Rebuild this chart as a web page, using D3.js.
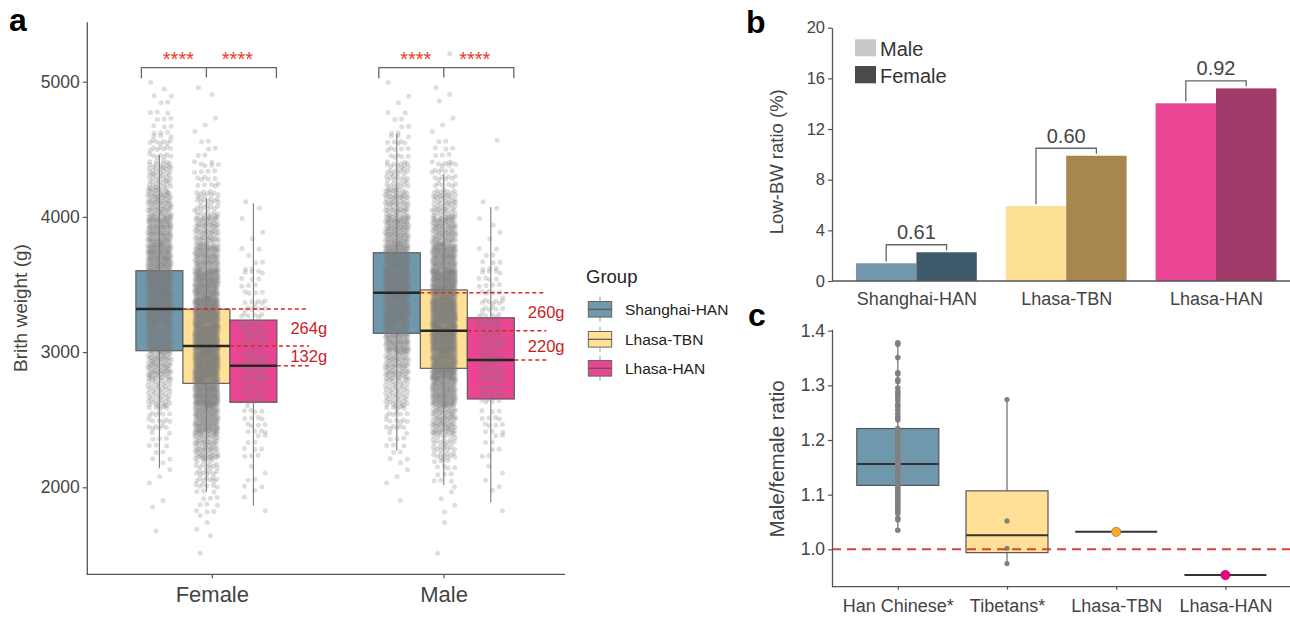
<!DOCTYPE html>
<html>
<head>
<meta charset="utf-8">
<script src="https://cdn.jsdelivr.net/npm/d3@7"></script>
<style>
  body { margin: 0; background: #fff; }
  svg { font-family: "Liberation Sans", Arial, sans-serif; }
</style>
</head>
<body>
<svg width="1290" height="617"></svg>
<script>
// ---------- panel a data ----------
var sexes = ["Female", "Male"];
var groups = ["Shanghai-HAN", "Lhasa-TBN", "Lhasa-HAN"];
var groupColors = ["#7098ac", "#ffe096", "#e94593"];
// [whiskerLow, q1, median, q3, whiskerHigh]
var femaleBoxes = [[2141, 3010, 3319, 3602, 4458], [1967, 2769, 3045, 3317, 4138], [1864, 2629, 2899, 3237, 4101]];
var maleBoxes = [[2271, 3139, 3439, 3735, 4611], [2017, 2880, 3158, 3460, 4317], [1889, 2653, 2942, 3254, 4073]];
// number of babies per 200 g bin, bins start at 1400 g
var binStart = 1400, binSize = 200;
var femaleCounts = [
  [0, 1, 2, 4, 10, 25, 50, 90, 130, 170, 180, 165, 130, 90, 55, 28, 12, 6, 0, 0],
  [1, 4, 12, 35, 80, 150, 220, 270, 280, 250, 190, 130, 80, 40, 18, 8, 3, 2, 0, 0],
  [0, 0, 3, 6, 10, 16, 24, 30, 30, 24, 14, 7, 3, 2, 0, 0, 0, 0, 0, 0]
];
var maleCounts = [
  [0, 0, 1, 4, 10, 25, 50, 85, 130, 165, 175, 155, 115, 75, 42, 20, 8, 3, 0, 0],
  [1, 1, 4, 14, 40, 90, 160, 230, 270, 270, 230, 170, 110, 60, 25, 10, 3, 3, 0, 1],
  [0, 0, 2, 4, 8, 14, 22, 28, 30, 26, 18, 10, 4, 2, 0, 1, 0, 0, 0, 0]
];
var diffLabels = [["264g", "132g"], ["260g", "220g"]];
var sigLabels = ["****", "****"];
var weightTicks = [2000, 3000, 4000, 5000];

// ---------- panel b data ----------
var bwGroups = ["Shanghai-HAN", "Lhasa-TBN", "Lhasa-HAN"];
var maleLowBW = [1.40, 5.92, 14.03];
var femaleLowBW = [2.27, 9.89, 15.21];
var maleBarColors = ["#7397ad", "#fde095", "#e94592"];
var femaleBarColors = ["#3f5a6b", "#a7864f", "#a13b6a"];
var ratioLabels = ["0.61", "0.60", "0.92"];
var lowBWTicks = [0, 4, 8, 12, 16, 20];

// ---------- panel c data ----------
var ratioCats = ["Han Chinese*", "Tibetans*", "Lhasa-TBN", "Lhasa-HAN"];
var hanRatios = [1.378, 1.375, 1.351, 1.323, 1.321, 1.310, 1.307, 1.295, 1.288, 1.284, 1.279, 1.273,
  1.266, 1.261, 1.255, 1.248, 1.242, 1.237, 1.221, 1.217, 1.212, 1.205, 1.200, 1.198, 1.193, 1.190,
  1.186, 1.182, 1.178, 1.175, 1.171, 1.168, 1.165, 1.161, 1.158, 1.155, 1.152, 1.148, 1.145, 1.142,
  1.138, 1.135, 1.131, 1.128, 1.125, 1.121, 1.118, 1.114, 1.110, 1.106, 1.102, 1.098, 1.094, 1.090,
  1.086, 1.082, 1.078, 1.074, 1.070, 1.066, 1.057, 1.054, 1.035];
var tibetanRatios = [0.974, 1.002, 1.052, 1.274];
var hanBox = [1.035, 1.117, 1.156, 1.221, 1.378];
var tibetanBox = [0.974, 0.994, 1.026, 1.107, 1.274];
var lhasaRatios = [1.032, 0.953];
var lhasaColors = ["#f9a832", "#e4087d"];
var ratioTicks = [1.0, 1.1, 1.2, 1.3, 1.4];

var svg = d3.select("svg");
var axisColor = "#555", textColor = "#444";

function styleAxis(g, size) {
  g.select(".domain").attr("stroke", axisColor).attr("stroke-width", 1.3);
  g.selectAll(".tick line").attr("stroke", axisColor).attr("stroke-width", 1.2);
  g.selectAll(".tick text").attr("fill", textColor).style("font-size", size + "px");
}

// ================= panel a =================
var yA = d3.scaleLinear().domain([1356.5, 5443.8]).range([574.3, 21.7]);
var xA = d3.scalePoint().domain(sexes).range([211.8, 443.6]);
var dodge = d3.scaleBand().domain(groups).range([-70.5, 70.5]);
var sexShift = { Female: -5.4, Male: 0.2 };
var bw = dodge.bandwidth();
function boxX(sex, grp) { return xA(sex) + sexShift[sex] + dodge(grp) + bw / 2; }

var gA = svg.append("g");
gA.append("g").attr("transform", "translate(86.8,0)")
  .call(d3.axisLeft(yA).tickValues(weightTicks).tickFormat(d3.format("d")).tickSize(4).tickPadding(3).tickSizeOuter(0))
  .call(styleAxis, 17.5);
gA.append("line").attr("x1", 86.8).attr("x2", 565).attr("y1", 574.3).attr("y2", 574.3)
  .attr("stroke", axisColor).attr("stroke-width", 1.3);
var xAxA = gA.append("g").attr("transform", "translate(0,574.3)")
  .call(d3.axisBottom(xA).tickSize(4).tickSizeOuter(0));
xAxA.select(".domain").remove();
xAxA.call(styleAxis, 22);
xAxA.selectAll(".tick text").attr("y", 28).attr("dy", 0);

gA.append("text").attr("transform", "translate(20,308) rotate(-90)")
  .attr("text-anchor", "middle").attr("dominant-baseline", "central")
  .attr("fill", textColor).style("font-size", "19px").text("Brith weight (g)");

var boxSets = [femaleBoxes, maleBoxes];
var countSets = [femaleCounts, maleCounts];

// boxes
sexes.forEach(function (sex, s) {
  groups.forEach(function (grp, g) {
    var b = boxSets[s][g], cx = boxX(sex, grp);
    gA.append("rect").attr("x", cx - bw / 2).attr("width", bw)
      .attr("y", yA(b[3])).attr("height", yA(b[1]) - yA(b[3]))
      .attr("fill", groupColors[g]).attr("stroke", "#555").attr("stroke-width", 1.1);
  });
});

// jittered babies
var pts = [];
sexes.forEach(function (sex, s) {
  groups.forEach(function (grp, g) {
    var cx = boxX(sex, grp);
    countSets[s][g].forEach(function (n, b) {
      for (var k = 0; k < n; k++) {
        var u = (0.5 + (k + 1) * 0.7548776662 + b * 0.13 + g * 0.31) % 1;
        var v = (0.5 + (k + 1) * 0.5698402910 + b * 0.29 + g * 0.17) % 1;
        pts.push({ x: cx + (v - 0.5) * 24, w: binStart + b * binSize + u * binSize });
      }
    });
  });
});
gA.append("g").selectAll("circle").data(pts).enter().append("circle")
  .attr("cx", function (d) { return d.x; })
  .attr("cy", function (d) { return yA(d.w); })
  .attr("r", 2.5).attr("fill", "#7a7a7a").attr("fill-opacity", 0.25);

// whiskers + medians + differences
sexes.forEach(function (sex, s) {
  groups.forEach(function (grp, g) {
    var b = boxSets[s][g], cx = boxX(sex, grp);
    gA.append("line").attr("x1", cx).attr("x2", cx).attr("y1", yA(b[0])).attr("y2", yA(b[1]))
      .attr("stroke", "#7a7a7a").attr("stroke-width", 1.1);
    gA.append("line").attr("x1", cx).attr("x2", cx).attr("y1", yA(b[3])).attr("y2", yA(b[4]))
      .attr("stroke", "#7a7a7a").attr("stroke-width", 1.1);
    gA.append("line").attr("x1", cx - bw / 2).attr("x2", cx + bw / 2)
      .attr("y1", yA(b[2])).attr("y2", yA(b[2]))
      .attr("stroke", "#262626").attr("stroke-width", 2.6);
  });
  var mid = boxX(sex, groups[1]);
  var dashEnd = mid + 102.6;
  groups.forEach(function (grp, g) {
    var b = boxSets[s][g];
    gA.append("line").attr("x1", boxX(sex, grp) + bw / 2).attr("x2", dashEnd)
      .attr("y1", yA(b[2])).attr("y2", yA(b[2]))
      .attr("stroke", "#d42a2a").attr("stroke-width", 1.5).attr("stroke-dasharray", "4,3");
  });
  diffLabels[s].forEach(function (lab, i) {
    var m1 = yA(boxSets[s][i][2]), m2 = yA(boxSets[s][i + 1][2]);
    gA.append("text").attr("x", mid + 84).attr("y", (m1 + m2) / 2 + 6.5)
      .attr("fill", "#c81e1e").style("font-size", "16.5px").text(lab);
  });
  // significance bracket
  var xl = boxX(sex, groups[0]) - 18, xr = boxX(sex, groups[2]) + 23;
  gA.append("path").attr("d", "M" + xl + ",78.3V67.7H" + xr + "V78.3M" + mid + ",67.7V77.5")
    .attr("fill", "none").attr("stroke", "#666").attr("stroke-width", 1.3);
  [mid - 28, mid + 31].forEach(function (sx, i) {
    gA.append("text").attr("x", sx).attr("y", 65.5).attr("text-anchor", "middle")
      .attr("fill", "#ee3a2c").style("font-size", "20px").text(sigLabels[i]);
  });
});

// legend
var leg = gA.append("g");
leg.append("text").attr("x", 586).attr("y", 283).attr("fill", "#222")
  .style("font-size", "18.5px").text("Group");
[309.3, 339.3, 368.3].forEach(function (cy, g) {
  leg.append("line").attr("x1", 600).attr("x2", 600).attr("y1", cy - 12.5).attr("y2", cy + 12.5)
    .attr("stroke", "#999").attr("stroke-width", 1);
  leg.append("rect").attr("x", 588.3).attr("y", cy - 7.8).attr("width", 23.4).attr("height", 15.6)
    .attr("fill", groupColors[g]).attr("stroke", "#666").attr("stroke-width", 1);
  leg.append("line").attr("x1", 588.3).attr("x2", 611.7).attr("y1", cy).attr("y2", cy)
    .attr("stroke", "#555").attr("stroke-width", 1.2);
  leg.append("text").attr("x", 625).attr("y", cy + 5.5).attr("fill", "#222")
    .style("font-size", "15.5px").text(groups[g]);
});

// ================= panel b =================
var yB = d3.scaleLinear().domain([0, 20]).range([281, 27.7]);
var xB = d3.scalePoint().domain(bwGroups).range([916.4, 1216]);
var barW = 60.4;
var gB = svg.append("g");

bwGroups.forEach(function (grp, i) {
  var c = xB(grp);
  gB.append("rect").attr("x", c - barW).attr("width", barW)
    .attr("y", yB(maleLowBW[i])).attr("height", yB(0) - yB(maleLowBW[i]))
    .attr("fill", maleBarColors[i]);
  gB.append("rect").attr("x", c).attr("width", barW)
    .attr("y", yB(femaleLowBW[i])).attr("height", yB(0) - yB(femaleLowBW[i]))
    .attr("fill", femaleBarColors[i]);
  var xl = c - barW / 2, xr = c + barW / 2;
  var top = yB(Math.max(maleLowBW[i], femaleLowBW[i])) - 7.5;
  gB.append("path")
    .attr("d", "M" + xl + "," + (yB(maleLowBW[i]) - 1.7) + "V" + top + "H" + xr + "V" + (yB(femaleLowBW[i]) - 2))
    .attr("fill", "none").attr("stroke", "#666").attr("stroke-width", 1.3);
  gB.append("text").attr("x", (xl + xr) / 2).attr("y", top - 5.5).attr("text-anchor", "middle")
    .attr("fill", textColor).style("font-size", "20px").text(ratioLabels[i]);
});

gB.append("g").attr("transform", "translate(832,0)")
  .call(d3.axisLeft(yB).tickValues(lowBWTicks).tickSize(4).tickPadding(3).tickSizeOuter(0))
  .call(styleAxis, 16.5);
gB.append("line").attr("x1", 832).attr("x2", 1290).attr("y1", 281).attr("y2", 281)
  .attr("stroke", axisColor).attr("stroke-width", 1.3);
var xAxB = gB.append("g").attr("transform", "translate(0,281)")
  .call(d3.axisBottom(xB).tickSize(0).tickSizeOuter(0));
xAxB.select(".domain").remove();
xAxB.call(styleAxis, 18);
xAxB.selectAll(".tick text").attr("y", 24).attr("dy", 0);

gB.append("text").attr("transform", "translate(776,161.7) rotate(-90)")
  .attr("text-anchor", "middle").attr("dominant-baseline", "central")
  .attr("fill", textColor).style("font-size", "18.5px").text("Low-BW ratio (%)");

gB.append("rect").attr("x", 855).attr("y", 39.3).attr("width", 21).attr("height", 17).attr("fill", "#c8c8c8");
gB.append("rect").attr("x", 855).attr("y", 66).attr("width", 21).attr("height", 17.3).attr("fill", "#4a4a4a");
gB.append("text").attr("x", 880).attr("y", 56).attr("fill", "#333").style("font-size", "20px").text("Male");
gB.append("text").attr("x", 880).attr("y", 82.7).attr("fill", "#333").style("font-size", "20px").text("Female");

// ================= panel c =================
var yC = d3.scaleLinear().domain([0.9317, 1.4025]).range([586.7, 329.3]);
var xC = d3.scalePoint().domain(ratioCats).range([897.8, 1225.4]);
var cw = 82;
var gC = svg.append("g");

function drawBox(cat, b, fill) {
  var cx = xC(cat);
  gC.append("line").attr("x1", cx).attr("x2", cx).attr("y1", yC(b[0])).attr("y2", yC(b[4]))
    .attr("stroke", "#777").attr("stroke-width", 1.3);
  gC.append("rect").attr("x", cx - cw / 2).attr("width", cw)
    .attr("y", yC(b[3])).attr("height", yC(b[1]) - yC(b[3]))
    .attr("fill", fill).attr("stroke", "#555").attr("stroke-width", 1.2);
  gC.append("line").attr("x1", cx - cw / 2).attr("x2", cx + cw / 2).attr("y1", yC(b[2])).attr("y2", yC(b[2]))
    .attr("stroke", "#333").attr("stroke-width", 2);
}
drawBox(ratioCats[0], hanBox, groupColors[0]);
drawBox(ratioCats[1], tibetanBox, groupColors[1]);

gC.append("g").selectAll("circle").data(hanRatios).enter().append("circle")
  .attr("cx", xC(ratioCats[0])).attr("cy", function (d) { return yC(d); })
  .attr("r", 2.8).attr("fill", "#808080");
gC.append("g").selectAll("circle").data(tibetanRatios).enter().append("circle")
  .attr("cx", xC(ratioCats[1])).attr("cy", function (d) { return yC(d); })
  .attr("r", 2.6).attr("fill", "#808080");

lhasaRatios.forEach(function (r, i) {
  var cx = xC(ratioCats[i + 2]);
  gC.append("line").attr("x1", cx - cw / 2).attr("x2", cx + cw / 2).attr("y1", yC(r)).attr("y2", yC(r))
    .attr("stroke", "#333").attr("stroke-width", 2);
});

gC.append("line").attr("x1", 832).attr("x2", 1290).attr("y1", yC(1)).attr("y2", yC(1))
  .attr("stroke", "#d9413b").attr("stroke-width", 2).attr("stroke-dasharray", "9,6");

lhasaRatios.forEach(function (r, i) {
  gC.append("circle").attr("cx", xC(ratioCats[i + 2])).attr("cy", yC(r)).attr("r", 4.6)
    .attr("fill", lhasaColors[i]).attr("stroke", i === 0 ? "#b27a2a" : "#b0065f").attr("stroke-width", 0.8);
});

gC.append("g").attr("transform", "translate(832,0)")
  .call(d3.axisLeft(yC).tickValues(ratioTicks).tickFormat(d3.format(".1f")).tickSize(4).tickPadding(3).tickSizeOuter(0))
  .call(styleAxis, 17.5);
gC.append("line").attr("x1", 832).attr("x2", 1290).attr("y1", 586.7).attr("y2", 586.7)
  .attr("stroke", axisColor).attr("stroke-width", 1.3);
var xAxC = gC.append("g").attr("transform", "translate(0,586.7)")
  .call(d3.axisBottom(xC).tickSize(3).tickSizeOuter(0));
xAxC.select(".domain").remove();
xAxC.call(styleAxis, 18);
xAxC.selectAll(".tick text").attr("y", 25).attr("dy", 0);

gC.append("text").attr("transform", "translate(776,459) rotate(-90)")
  .attr("text-anchor", "middle").attr("dominant-baseline", "central")
  .attr("fill", textColor).style("font-size", "20.5px").text("Male/female ratio");

// panel letters
[["a", 9, 31], ["b", 746, 33], ["c", 748, 326]].forEach(function (p) {
  svg.append("text").attr("x", p[1]).attr("y", p[2]).attr("fill", "#000")
    .style("font-size", "32px").style("font-weight", "bold").text(p[0]);
});
</script>
</body>
</html>
